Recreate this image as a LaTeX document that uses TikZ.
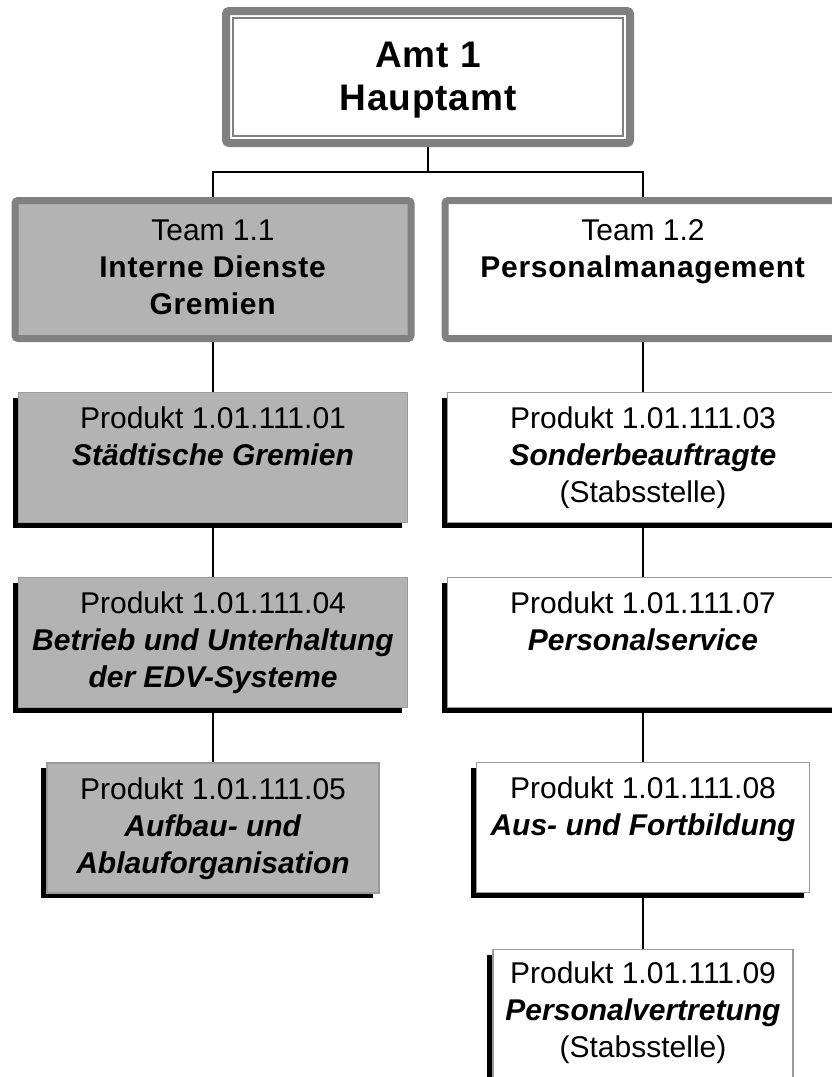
\documentclass[tikz,border=0pt]{standalone}
\usepackage{fontspec}
\setmainfont{Liberation Sans}[BoldFeatures={LetterSpace=2.5}]
\usetikzlibrary{shadows}

\definecolor{framegray}{HTML}{808080}
\definecolor{fillgray}{HTML}{B3B3B3}
\definecolor{edgegray}{HTML}{9A9A9A}

% top aligned text block: height, width, first baseline, text
\newcommand{\boxtext}[4]{\parbox[t][#1][t]{#2}{\centering\rule{0pt}{#3}#4}}
\newcommand{\pname}[1]{\textbf{\textit{#1}}}

\tikzset{
  amtbox/.style={draw=framegray, line width=8pt, rounded corners=3pt, fill=white, inner sep=0pt,
    font=\fontsize{37}{43}\selectfont\bfseries},
  teambox/.style={draw=framegray, line width=7pt, rounded corners=3pt, inner sep=0pt,
    font=\fontsize{30}{37}\selectfont},
  prodbox/.style={draw=edgegray, line width=1.5pt, inner sep=0pt,
    font=\fontsize{30}{37}\selectfont,
    drop shadow={shadow xshift=-6pt, shadow yshift=-5pt, fill=black, opacity=1}},
  link/.style={draw=black, line width=2pt}
}

\begin{document}
\begin{tikzpicture}[x=1pt, y=-1pt]
\useasboundingbox (0,0) rectangle (832,1077);
\clip (0,0) rectangle (832,1077);

% Amt
\node[amtbox] (amt) at (428,77) {\boxtext{132pt}{404pt}{56pt}{Amt 1\\Hauptamt}};
\draw[framegray, line width=1.5pt] ([xshift=11pt,yshift=-11pt]amt.north west) rectangle ([xshift=-11pt,yshift=11pt]amt.south east);

% Teams
\node[teambox, fill=fillgray] (t11) at (213,269.5) {\boxtext{138pt}{396pt}{39.5pt}{Team 1.1\\\textbf{Interne Dienste}\\\textbf{Gremien}}};
\node[teambox, fill=white] (t12) at (643,269.5) {\boxtext{138pt}{396pt}{39.5pt}{Team 1.2\\\textbf{Personalmanagement}}};

% Produkte Team 1.1
\node[prodbox, fill=fillgray] (p01) at (213,457.5) {\boxtext{130pt}{389pt}{36pt}{Produkt 1.01.111.01\\\pname{Städtische Gremien}}};
\node[prodbox, fill=fillgray] (p04) at (213,642.5) {\boxtext{130pt}{389pt}{36pt}{Produkt 1.01.111.04\\\pname{Betrieb und Unterhaltung}\\\pname{der EDV-Systeme}}};
\node[prodbox, fill=fillgray] (p05) at (213,828) {\boxtext{130pt}{332pt}{36pt}{Produkt 1.01.111.05\\\pname{Aufbau- und}\\\pname{Ablauforganisation}}};

% Produkte Team 1.2
\node[prodbox, fill=white] (p03) at (643,457.5) {\boxtext{130pt}{391pt}{36pt}{Produkt 1.01.111.03\\\pname{Sonderbeauftragte}\\(Stabsstelle)}};
\node[prodbox, fill=white] (p07) at (643,642.5) {\boxtext{130pt}{391pt}{36pt}{Produkt 1.01.111.07\\\pname{Personalservice}}};
\node[prodbox, fill=white] (p08) at (643,827.5) {\boxtext{130pt}{333pt}{36pt}{Produkt 1.01.111.08\\\pname{Aus- und Fortbildung}}};
\node[prodbox, fill=white] (p09) at (643,1014.5) {\boxtext{130pt}{300pt}{34pt}{Produkt 1.01.111.09\\\pname{Personalvertretung}\\(Stabsstelle)}};

% Verbindungen
\coordinate (bus) at (428,172);
\draw[link] (amt.south) -- (bus);
\draw[link] (t11.north) |- (bus) -| (t12.north);
\foreach \a/\b in {t11/p01, p01/p04, p04/p05, t12/p03, p03/p07, p07/p08, p08/p09}
  \draw[link] (\a.south) -- (\b.north);
\end{tikzpicture}
\end{document}
